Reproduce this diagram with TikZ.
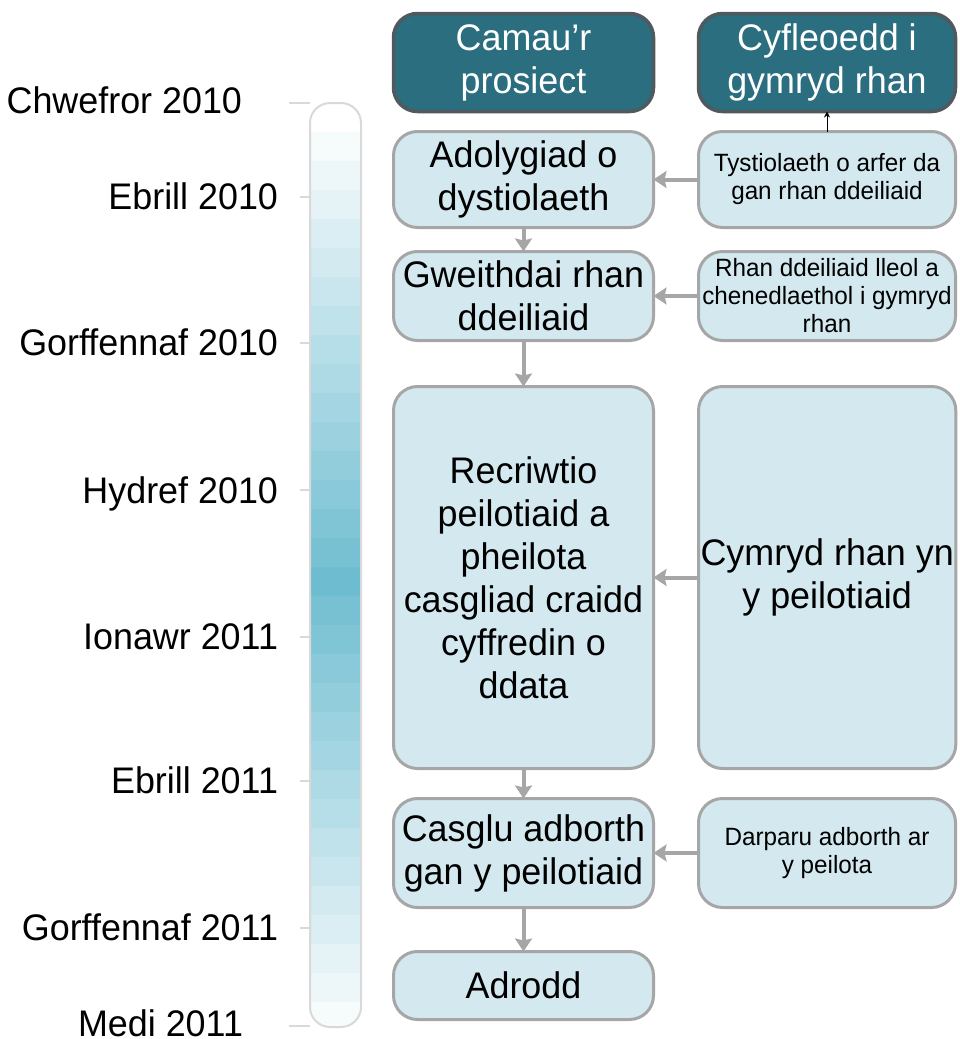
\documentclass[tikz,border=0pt]{standalone}
\usepackage{fontspec}
\setmainfont[FakeStretch=0.97]{Liberation Sans}
\usetikzlibrary{positioning, arrows.meta}
\definecolor{headfill}{HTML}{2A6E7F}
\definecolor{headline}{HTML}{4F595E}
\definecolor{stepfill}{HTML}{D3E9EF}
\definecolor{stepline}{HTML}{A6A6A6}
\definecolor{barblue}{HTML}{6DBCD0}
\definecolor{barline}{HTML}{D9D9D9}

\begin{document}
\begin{tikzpicture}[
    x=1pt, y=-1pt,
    font=\fontsize{37}{43}\selectfont,
    every node/.style={outer sep=0pt},
    head/.style={rectangle, draw=headline, fill=headfill, line width=3.5pt, rounded corners=24pt, text=white, align=center, minimum width=260pt, minimum height=98pt, inner sep=2pt},
    stepbox/.style={rectangle, draw=stepline, fill=stepfill, line width=3pt, rounded corners=24pt, align=center, minimum width=260pt, inner sep=2pt},
    small/.style={font=\fontsize{25}{28}\selectfont},
    date/.style={anchor=base east, inner sep=0pt},
    tick/.style={barline, line width=2pt},
    arrow/.style={-{Stealth[length=13pt,width=17pt,inset=2pt]}, draw=stepline, line width=4pt}
]
    \useasboundingbox (0,0) rectangle (959,1039);

    % timeline bar
    \begin{scope}
        \clip[rounded corners=20pt] (310,103) rectangle (361,1027);
        \foreach \i in {0,...,31}{
            \pgfmathtruncatemacro\p{100-abs(\i-16)*6.25}
            \fill[barblue!\p!white] (310,103+\i*29) rectangle (361,132+\i*29);
        }
    \end{scope}
    \draw[barline, line width=2pt, rounded corners=20pt] (310,103) rectangle (361,1027);

    % dates
    \node[date] (chwe10) at (242,113) {Chwefror 2010};
    \node[date] (ebr10) at (278,209) {Ebrill 2010};
    \node[date] (gorff10) at (278,355) {Gorffennaf 2010};
    \node[date] (hyd10) at (278,503) {Hydref 2010};
    \node[date] (ion11) at (278,649) {Ionawr 2011};
    \node[date] (ebr11) at (278,793) {Ebrill 2011};
    \node[date] (gorff11) at (278,940) {Gorffennaf 2011};
    \node[date] (medi11) at (243,1036) {Medi 2011};

    \draw[tick] (289,102.5) -- (310,102.5);
    \foreach \y in {197,343,490,637,781,928}
        \draw[tick] (300,\y) -- (310,\y);
    \draw[tick] (289,1025.5) -- (310,1025.5);

    % steps
    \node[stepbox, minimum height=96pt] (adolygu) at (523.5,179.5) {Adolygiad o\\dystiolaeth};
    \node[head, above=20pt of adolygu] (camau) {Camau’r\\prosiect};
    \node[stepbox, minimum height=89pt, below=24pt of adolygu] (gweithdai) {Gweithdai rhan\\ddeiliaid};
    \node[stepbox, minimum height=382pt, below=46pt of gweithdai] (recriwtio) {Recriwtio\\peilotiaid a\\pheilota\\casgliad craidd\\cyffredin o\\ddata};
    \node[stepbox, minimum height=109pt, below=30pt of recriwtio] (casglu) {Casglu adborth\\gan y peilotiaid};
    \node[stepbox, minimum height=68pt, below=44pt of casglu] (adrodd) {Adrodd};

    % opportunities
    \node[stepbox, small, minimum width=257pt, minimum height=96pt, right=45pt of adolygu] (tystiolaeth) {Tystiolaeth o arfer da\\gan rhan ddeiliaid};
    \node[head, minimum width=257pt, above=20pt of tystiolaeth] (cyfleoedd) {Cyfleoedd i\\gymryd rhan};
    \node[stepbox, small, minimum width=257pt, minimum height=89pt, right=45pt of gweithdai] (rhanddeiliaid) {Rhan ddeiliaid lleol a\\chenedlaethol i gymryd\\rhan};
    \node[stepbox, minimum width=257pt, minimum height=382pt, right=45pt of recriwtio] (cymryd) {Cymryd rhan yn\\y peilotiaid};
    \node[stepbox, small, minimum width=257pt, minimum height=109pt, right=45pt of casglu] (darparu) {Darparu adborth ar\\y peilota};

    \draw[arrow] (adolygu) -- (gweithdai);
    \draw[arrow] (gweithdai) -- (recriwtio);
    \draw[arrow] (recriwtio) -- (casglu);
    \draw[arrow] (casglu) -- (adrodd);

    \draw[arrow] (tystiolaeth) -- (adolygu);
    \draw[arrow] (rhanddeiliaid) -- (gweithdai);
    \draw[arrow] (cymryd) -- (recriwtio);
    \draw[arrow] (darparu) -- (casglu);

    \draw[-{Stealth[length=6pt,width=6pt]}, line width=1pt] (tystiolaeth) -- (cyfleoedd);
\end{tikzpicture}
\end{document}
